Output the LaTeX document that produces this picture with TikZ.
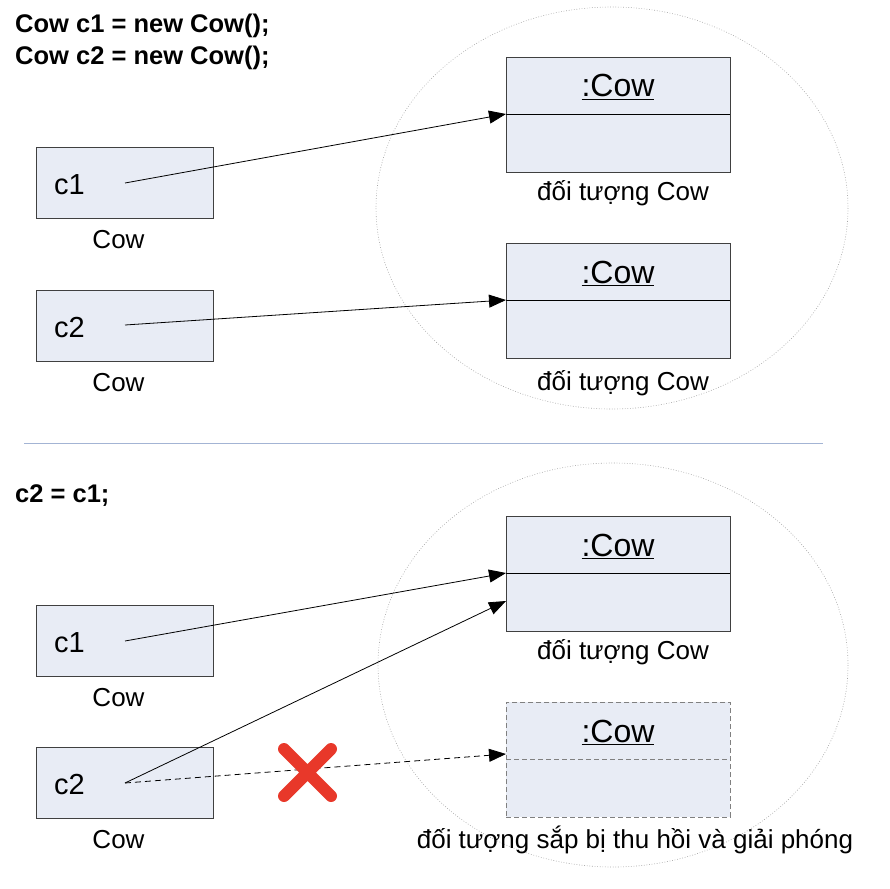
\documentclass[tikz,border=0pt]{standalone}
\usepackage{fontspec}
\setmainfont{Liberation Sans}
\usetikzlibrary{arrows.meta}
\definecolor{boxfill}{HTML}{E8ECF5}
\definecolor{boxline}{HTML}{404040}
\definecolor{sepline}{HTML}{A3B4D4}
\definecolor{crossred}{HTML}{E8382A}
\tikzset{
  varbox/.style={draw=boxline, line width=1pt, fill=boxfill, anchor=north west, minimum width=177pt, minimum height=71pt, inner sep=0pt},
  objbox/.style={draw=boxline, line width=0.9pt, fill=boxfill, anchor=north west, minimum width=224pt, minimum height=115pt, inner sep=0pt},
  deadbox/.style={objbox, draw=gray, dash pattern=on 5pt off 3pt},
  cloud/.style={draw=gray!70, line width=0.6pt, dash pattern=on 0.8pt off 1.8pt},
  codetxt/.style={font=\fontsize{25.5}{30}\selectfont\bfseries, anchor=base west, inner sep=0pt},
  vartxt/.style={font=\fontsize{29}{34}\selectfont, anchor=base west, inner sep=0pt},
  typetxt/.style={font=\fontsize{26}{30}\selectfont, anchor=base, inner sep=0pt},
  objtxt/.style={font=\fontsize{32}{36}\selectfont, anchor=base, inner sep=0pt},
  lbltxt/.style={font=\fontsize{26}{30}\selectfont, anchor=base, inner sep=0pt},
  ref/.style={line width=0.8pt, -{Triangle[length=17pt,width=13pt]}},
  deadref/.style={ref, dash pattern=on 6pt off 4pt},
}
\begin{document}
\begin{tikzpicture}[x=1pt,y=-1pt]
\useasboundingbox (0,0) rectangle (890,888);

% ---------- top part ----------
\node[codetxt] (code1) at (15,33) {Cow c1 = new Cow();};
\node[codetxt] (code2) at (15,65) {Cow c2 = new Cow();};

\draw[cloud] (612,208) ellipse [x radius=236, y radius=201];

\node[varbox] (v1) at (36,147) {};
\node[vartxt] (v1t) at (54,194) {c1};
\node[typetxt] (v1l) at (118.5,248) {Cow};
\node[varbox] (v2) at (36,290) {};
\node[vartxt] (v2t) at (54,337) {c2};
\node[typetxt] (v2l) at (118.5,391) {Cow};

\node[objbox] (o1) at (506,57) {};
\draw[line width=0.9pt] (506,114) coordinate (o1d) -- (730,114);
\node[objtxt] (o1t) at (618,97) {\underline{:Cow}};
\node[lbltxt] (o1l) at (623,200) {đối tượng Cow};

\node[objbox] (o2) at (506,243) {};
\draw[line width=0.9pt] (506,300) coordinate (o2d) -- (730,300);
\node[objtxt] (o2t) at (618,283) {\underline{:Cow}};
\node[lbltxt] (o2l) at (623,390) {đối tượng Cow};

\coordinate (p1) at (125,183);
\coordinate (p2) at (125,325);
\draw[ref] (p1) -- (o1d);
\draw[ref] (p2) -- (o2d);

% ---------- separator ----------
\draw[sepline, line width=1pt] (24,443) coordinate (sa) -- (823,443) coordinate (sb);

% ---------- bottom part ----------
\node[codetxt] (code3) at (15,502) {c2 = c1;};

\draw[cloud] (613,665) ellipse [x radius=235, y radius=202];

\node[varbox] (w1) at (36,605) {};
\node[vartxt] (w1t) at (54,652) {c1};
\node[typetxt] (w1l) at (118.5,706) {Cow};
\node[varbox] (w2) at (36,747) {};
\node[vartxt] (w2t) at (54,794) {c2};
\node[typetxt] (w2l) at (118.5,848) {Cow};

\node[objbox] (q1) at (506,516) {};
\draw[line width=0.9pt] (506,573) coordinate (q1d) -- (730,573);
\node[objtxt] (q1t) at (618,556) {\underline{:Cow}};
\node[lbltxt] (q1l) at (623,659) {đối tượng Cow};
\coordinate (q1e) at (506,601);

\node[deadbox] (q2) at (506,702) {};
\draw[gray, line width=0.9pt, dash pattern=on 5pt off 3pt] (506,759) -- (730,759);
\coordinate (q2d) at (506,754);
\node[objtxt] (q2t) at (618,742) {\underline{:Cow}};
\node[lbltxt] (q2l) at (635,848) {đối tượng sắp bị thu hồi và giải phóng};

\coordinate (r1) at (125,641);
\coordinate (r2) at (125,783);
\draw[ref] (r1) -- (q1d);
\draw[ref] (r2) -- (q1e);
\draw[deadref] (r2) -- (q2d);

% red cross
\coordinate (xa) at (284,749);
\coordinate (xb) at (331,796);
\coordinate (xc) at (331,749);
\coordinate (xd) at (284,796);
\draw[crossred, line width=12pt, line cap=round] (xa) -- (xb) (xc) -- (xd);
\end{tikzpicture}
\end{document}
